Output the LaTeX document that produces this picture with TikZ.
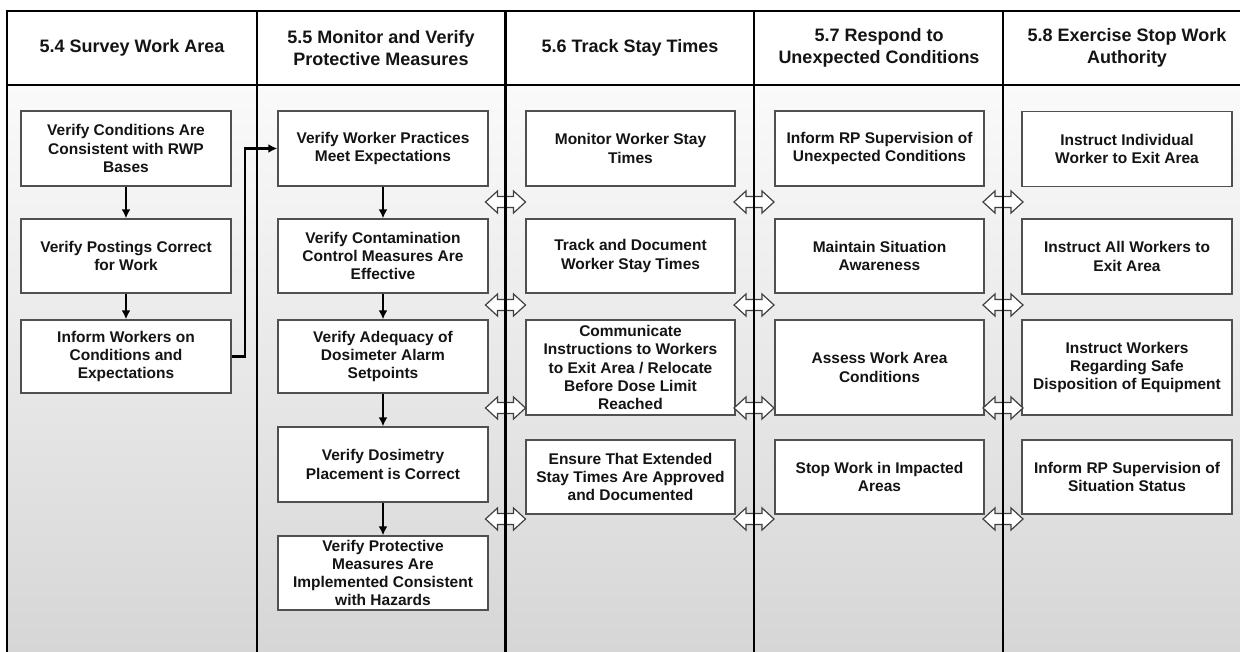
\documentclass[tikz,border=0pt]{standalone}
\usepackage{fontspec}
\setmainfont{Liberation Sans}
\usetikzlibrary{arrows.meta}
\definecolor{ink}{HTML}{141414}
\definecolor{boxline}{HTML}{505050}
\definecolor{bgtop}{HTML}{FAFAFA}
\definecolor{bgmid}{HTML}{EBEBEB}
\definecolor{bgbot}{HTML}{D6D6D6}
\begin{document}
\begin{tikzpicture}[x=1pt,y=-1pt,
  rule/.style={line width=2.5pt,black},
  task/.style={draw=boxline,line width=1.4pt,fill=white,inner sep=0pt,
    align=center,text=ink,font=\bfseries\fontsize{15.5}{18.3}\selectfont},
  colhead/.style={align=center,text=ink,font=\bfseries\fontsize{18}{22}\selectfont},
  flow/.style={line width=2.4pt,-{Latex[length=9pt,width=9pt]}},
  xarrow/.style={draw=black!75,line width=1.2pt,fill=white,line join=miter},
  pics/xchg/.style={code={
    \draw[xarrow] (-20,0) -- (-8,-11) -- (-8,-5.5) -- (8,-5.5) -- (8,-11)
      -- (20,0) -- (8,11) -- (8,5.5) -- (-8,5.5) -- (-8,11) -- cycle;}}
]
\useasboundingbox (0,0) rectangle (1240,652);
\fill[white] (0,0) rectangle (1240,652);

% body background
\shade[top color=bgtop,middle color=bgmid,bottom color=bgbot] (7,85) rectangle (1240,652);

% column headings
\node[colhead] (h1) at (132,48) {5.4 Survey Work Area};
\node[colhead] (h2) at (381,48) {5.5 Monitor and Verify\\Protective Measures};
\node[colhead] (h3) at (630,48) {5.6 Track Stay Times};
\node[colhead] (h4) at (879,48) {5.7 Respond to\\Unexpected Conditions};
\node[colhead] (h5) at (1127,48) {5.8 Exercise Stop Work\\Authority};

% 5.4
\node[task,minimum width=210pt,minimum height=75pt] (a1) at (126,148.5) {Verify Conditions Are\\Consistent with RWP\\Bases};
\node[task,minimum width=210pt,minimum height=74pt] (a2) at (126,256) {Verify Postings Correct\\for Work};
\node[task,minimum width=210pt,minimum height=73pt] (a3) at (126,356.5) {Inform Workers on\\Conditions and\\Expectations};

% 5.5
\node[task,minimum width=210pt,minimum height=75pt] (b1) at (383,148.5) {Verify Worker Practices\\Meet Expectations};
\node[task,minimum width=210pt,minimum height=74pt] (b2) at (383,256) {Verify Contamination\\Control Measures Are\\Effective};
\node[task,minimum width=210pt,minimum height=73pt] (b3) at (383,356.5) {Verify Adequacy of\\Dosimeter Alarm\\Setpoints};
\node[task,minimum width=210pt,minimum height=75pt] (b4) at (383,464.5) {Verify Dosimetry\\Placement is Correct};
\node[task,minimum width=210pt,minimum height=74pt] (b5) at (383,573) {Verify Protective\\Measures Are\\Implemented Consistent\\with Hazards};

% 5.6
\node[task,minimum width=209pt,minimum height=75pt] (c1) at (630.5,148.5) {Monitor Worker Stay\\Times};
\node[task,minimum width=209pt,minimum height=74pt] (c2) at (630.5,256) {Track and Document\\Worker Stay Times};
\node[task,minimum width=209pt,minimum height=95pt] (c3) at (630.5,367.5) {Communicate\\Instructions to Workers\\to Exit Area / Relocate\\Before Dose Limit\\Reached};
\node[task,minimum width=209pt,minimum height=74pt] (c4) at (630.5,477) {Ensure That Extended\\Stay Times Are Approved\\and Documented};

% 5.7
\node[task,minimum width=209pt,minimum height=75pt] (d1) at (879.5,148.5) {Inform RP Supervision of\\Unexpected Conditions};
\node[task,minimum width=209pt,minimum height=74pt] (d2) at (879.5,256) {Maintain Situation\\Awareness};
\node[task,minimum width=209pt,minimum height=95pt] (d3) at (879.5,367.5) {Assess Work Area\\Conditions};
\node[task,minimum width=209pt,minimum height=74pt] (d4) at (879.5,477) {Stop Work in Impacted\\Areas};

% 5.8
\node[task,minimum width=210pt,minimum height=75pt] (e1) at (1127,149) {Instruct Individual\\Worker to Exit Area};
\node[task,minimum width=210pt,minimum height=75pt] (e2) at (1127,256.5) {Instruct All Workers to\\Exit Area};
\node[task,minimum width=210pt,minimum height=95pt] (e3) at (1127,367.5) {Instruct Workers\\Regarding Safe\\Disposition of Equipment};
\node[task,minimum width=210pt,minimum height=74pt] (e4) at (1127,477) {Inform RP Supervision of\\Situation Status};

% sequence arrows
\draw[flow] (a1) -- (a2);
\draw[flow] (a2) -- (a3);
\draw[flow] (a3.east) -- ++(13,0) |- (b1.west);
\draw[flow] (b1) -- (b2);
\draw[flow] (b2) -- (b3);
\draw[flow] (b3) -- (b4);
\draw[flow] (b4) -- (b5);

% two-way links across the lanes
\foreach \lx in {505.5,754,1003}{
  \foreach \ly in {202,305,408,519}{
    \pic at (\lx,\ly) {xchg};
  }
}

% table rules
\draw[rule] (7,11) -- (1240,11);
\draw[rule] (7,85) -- (1240,85);
\draw[rule] (7,9.75) -- (7,652);
\foreach \lx in {257,505.5,754,1003}{
  \draw[rule] (\lx,11) -- (\lx,652);
}
\end{tikzpicture}
\end{document}
